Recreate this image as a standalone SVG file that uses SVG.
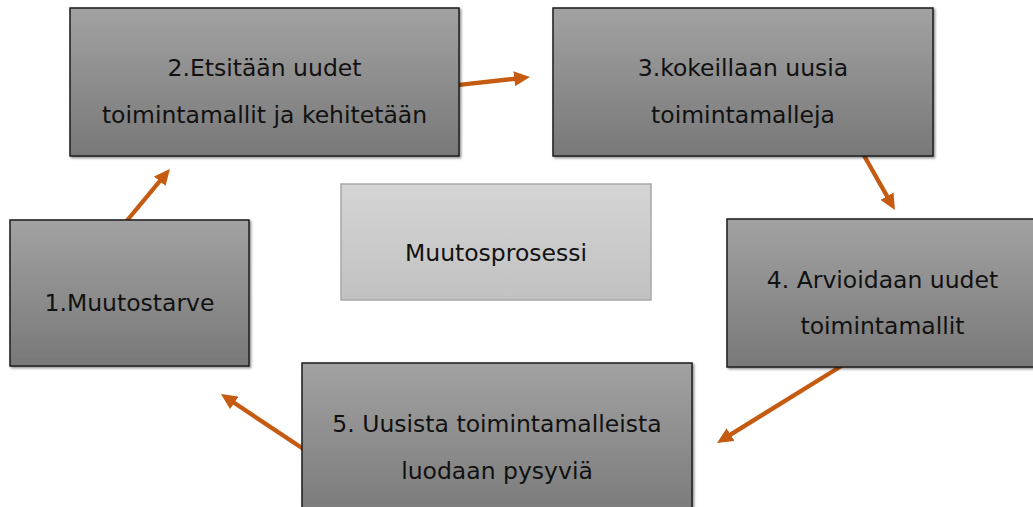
<svg xmlns="http://www.w3.org/2000/svg" width="1033" height="507" viewBox="0 0 1033 507">
  <defs>
    <linearGradient id="gDark" x1="0" y1="0" x2="0" y2="1">
      <stop offset="0" stop-color="#a2a2a2"/>
      <stop offset="1" stop-color="#787878"/>
    </linearGradient>
    <linearGradient id="gLight" x1="0" y1="0" x2="0" y2="1">
      <stop offset="0" stop-color="#d5d5d5"/>
      <stop offset="1" stop-color="#c1c1c1"/>
    </linearGradient>
    <filter id="shadow" x="-5%" y="-5%" width="112%" height="115%">
      <feDropShadow dx="1.5" dy="1.5" stdDeviation="1" flood-color="#000" flood-opacity="0.45"/>
    </filter>
    <marker id="arrow" viewBox="0 0 16 15" markerWidth="16" markerHeight="15" refX="2" refY="7.5" orient="auto" markerUnits="userSpaceOnUse">
      <path d="M0,0 L16,7.5 L0,15 Z" fill="#c55a11"/>
    </marker>
    <style>
      .box { fill: url(#gDark); stroke: #1e1e1e; stroke-width: 1.5; filter: url(#shadow); }
      .center { fill: url(#gLight); stroke: #a8a8a8; stroke-width: 1.5; }
      .lbl { font-family: "DejaVu Sans", "Liberation Sans", sans-serif; font-size: 23.5px; fill: #111; text-anchor: middle; }
      .conn { stroke: #c55a11; stroke-width: 4.3; fill: none; marker-end: url(#arrow); }
    </style>
  </defs>
  <rect width="1033" height="507" fill="#ffffff"/>

  <g id="connectors">
    <line class="conn" x1="125" y1="223" x2="161.0" y2="179.7"/>
    <line class="conn" x1="457" y1="85.2" x2="516.1" y2="78.6"/>
    <line class="conn" x1="862" y1="152" x2="888.0" y2="197.9"/>
    <line class="conn" x1="843" y1="365" x2="728.9" y2="435.6"/>
    <line class="conn" x1="305" y1="450" x2="232.6" y2="401.8"/>
  </g>

  <g id="node-center">
    <rect class="center" x="341" y="184" width="310" height="116"/>
    <text class="lbl" x="496" y="261">Muutosprosessi</text>
  </g>

  <g id="node-1">
    <rect class="box" x="10" y="220" width="239" height="146"/>
    <text class="lbl" x="129.5" y="311">1.Muutostarve</text>
  </g>

  <g id="node-2">
    <rect class="box" x="70" y="8" width="389" height="148"/>
    <text class="lbl" x="264.5" y="76">2.Etsitään uudet</text>
    <text class="lbl" x="264.5" y="123">toimintamallit ja kehitetään</text>
  </g>

  <g id="node-3">
    <rect class="box" x="553" y="8" width="380" height="148"/>
    <text class="lbl" x="743" y="76">3.kokeillaan uusia</text>
    <text class="lbl" x="743" y="123">toimintamalleja</text>
  </g>

  <g id="node-4">
    <rect class="box" x="727" y="219" width="311" height="148"/>
    <text class="lbl" x="882.5" y="288">4. Arvioidaan uudet</text>
    <text class="lbl" x="882.5" y="334">toimintamallit</text>
  </g>

  <g id="node-5">
    <rect class="box" x="302" y="363" width="390" height="160"/>
    <text class="lbl" x="497" y="432">5. Uusista toimintamalleista</text>
    <text class="lbl" x="497" y="479">luodaan pysyviä</text>
  </g>
</svg>
